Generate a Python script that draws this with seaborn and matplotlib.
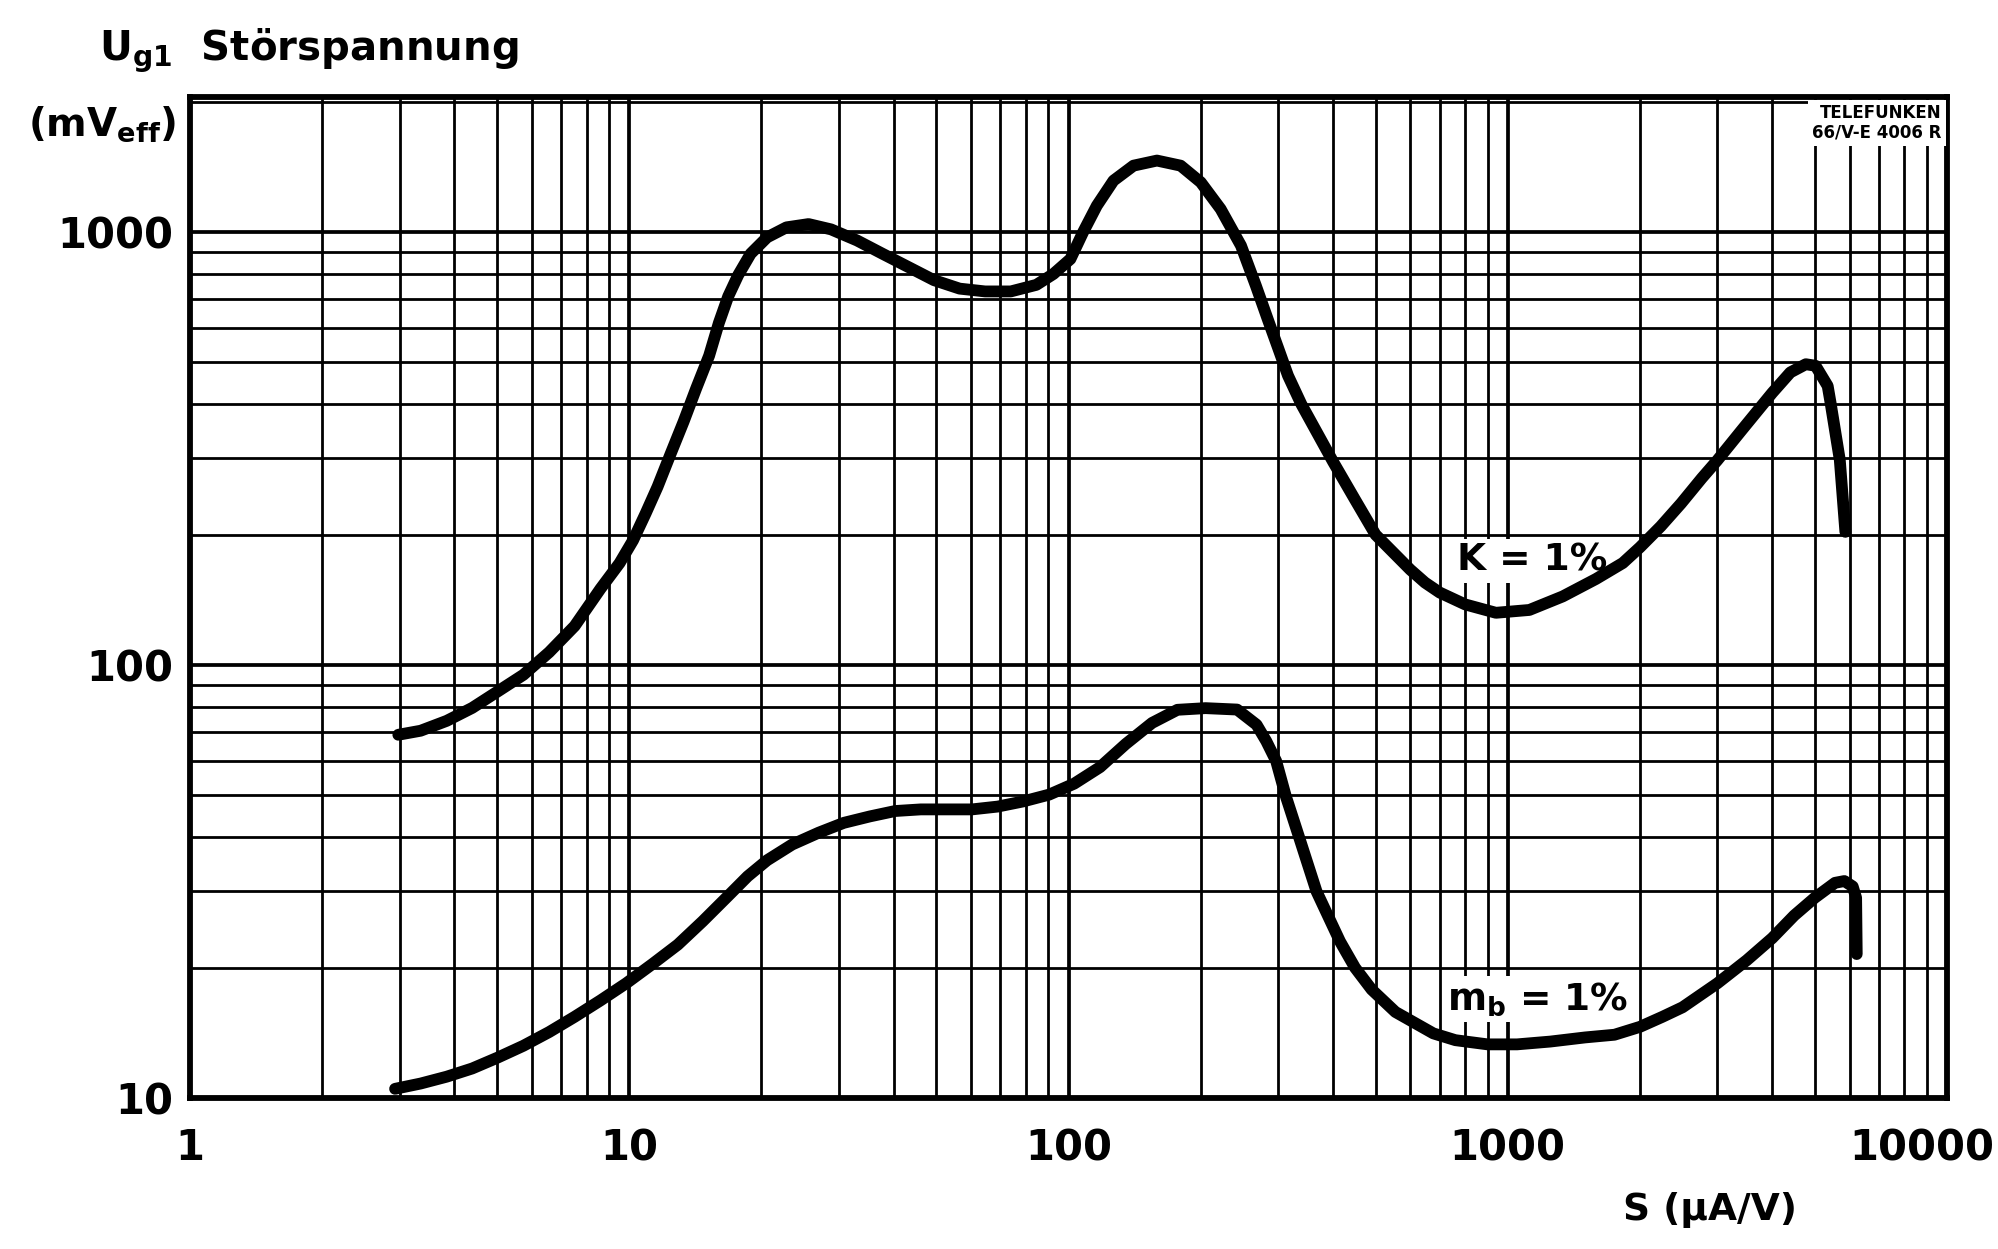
import matplotlib
matplotlib.use("Agg")
import matplotlib.pyplot as plt
import matplotlib.transforms as mtransforms
from matplotlib.ticker import LogLocator, NullFormatter
import numpy as np
import pandas as pd
import seaborn as sns

# ---- data ----
k_x = [2.98, 3.35, 3.84, 4.39, 5.02, 5.74, 6.57, 7.51, 8.60, 9.51, 10.2, 10.9, 11.6,
       12.4, 13.3, 14.2, 15.2, 16.0, 16.8, 17.7, 18.9, 20.6, 22.8, 25.6, 28.8, 33.0,
       37.7, 43.2, 49.4, 56.5, 64.6, 73.9, 84.5, 92.4, 101, 108, 116, 126.6, 140.6,
       159, 180, 200, 222, 247, 267, 284, 300, 316, 339, 400, 449, 500, 600, 648,
       700, 800, 940, 1120, 1334, 1588, 1828, 2000, 2230, 2480, 2765, 3000, 3420,
       4000, 4400, 4770, 5020, 5350, 5430, 5700, 5840, 5870]
k_y = [69, 70.5, 74.3, 79.6, 86.9, 94.9, 107, 123, 150, 172, 194, 224, 258,
       306, 365, 435, 518, 617, 710, 795, 891, 972, 1025, 1043, 1014, 956,
       891, 830, 774, 740, 729, 729, 755, 800, 866, 1000, 1150, 1314, 1423,
       1462, 1423, 1303, 1130, 930, 752, 630, 540, 466, 400, 295, 241, 200, 166, 155,
       147, 138, 132, 134, 144, 158, 172, 187, 209, 236, 270, 297, 350,
       425, 474, 495, 491, 441, 404, 298, 217, 203]

mb_x = [2.93, 3.35, 3.84, 4.39, 5.02, 5.74, 6.57, 7.51, 8.60, 9.84, 11.3, 12.9, 14.7,
        16.8, 18.6, 20.6, 23.5, 27.0, 30.8, 35.3, 40.3, 46.1, 52.8, 60.3, 69, 78.8,
        90.4, 103, 118, 135, 155, 177, 205, 242, 268, 282, 297, 312, 335, 367, 384,
        415, 449, 490, 555, 677, 760, 900, 1050, 1250, 1500, 1750, 2000, 2250, 2500,
        3000, 3500, 4000, 4490, 5000, 5560, 5840, 6100, 6210, 6220, 6230]
mb_y = [10.5, 10.8, 11.2, 11.7, 12.4, 13.2, 14.2, 15.4, 16.8, 18.4, 20.4, 22.6, 25.6,
        29.3, 32.5, 35.4, 38.5, 41.0, 43.2, 44.7, 46.0, 46.4, 46.4, 46.4, 47.1, 48.4,
        50.2, 53.2, 58.1, 65.7, 73.5, 78.8, 79.5, 78.9, 72.8, 66.7, 60, 50, 40, 30, 27.2,
        23.0, 20.0, 17.8, 15.8, 14.1, 13.6, 13.3, 13.3, 13.5, 13.8, 14.0, 14.6, 15.4, 16.2,
        18.4, 20.8, 23.4, 26.4, 29.0, 31.4, 31.7, 30.8, 29.0, 25.0, 21.5]

curve_names = ["K = 1%", "m$_b$ = 1%"]
label_pos = [(765, 174), (726, 16.9)]

x_ticks = [1, 10, 100, 1000, 10000]
x_tick_labels = ["1", "10", "100", "1000", "10000"]
y_ticks = [10, 100, 1000]
y_tick_labels = ["10", "100", "1000"]

title_text = "U$_{g1}$  Störspannung"
unit_text = "(mV$_{eff}$)"
xlabel_text = "S (µA/V)"
logo_text = "TELEFUNKEN\n66/V-E 4006 R"

# ---- styling ----
sns.set_theme(style="white")
plt.rcParams["font.family"] = ["DejaVu Sans"]
plt.rcParams["mathtext.fontset"] = "dejavusans"
plt.rcParams["mathtext.default"] = "bf"

fig = plt.figure(figsize=(19.98, 12.49), dpi=100)
ax = fig.add_axes([190 / 1998, 1 - 1098 / 1249, (1947 - 190) / 1998, (1098 - 97) / 1249])
ax.set_xscale("log")
ax.set_yscale("log")
ax.set_xlim(1, 10000)
ax.set_ylim(10, 2050)

df = pd.concat([
    pd.DataFrame({"S": k_x, "U": k_y, "curve": curve_names[0]}),
    pd.DataFrame({"S": mb_x, "U": mb_y, "curve": curve_names[1]}),
])
for name in curve_names:
    sub = df[df["curve"] == name]
    sns.lineplot(data=sub, x="S", y="U", ax=ax, color="black", lw=8.5,
                 sort=False, estimator=None, legend=False, zorder=4,
                 solid_capstyle="round", solid_joinstyle="round")

# grid
ax.xaxis.set_minor_locator(LogLocator(base=10, subs=np.arange(2, 10)))
ax.yaxis.set_minor_locator(LogLocator(base=10, subs=np.arange(2, 10)))
ax.xaxis.set_minor_formatter(NullFormatter())
ax.yaxis.set_minor_formatter(NullFormatter())
ax.set_axisbelow(True)
ax.grid(which="major", color="black", lw=2.7)
ax.grid(which="minor", color="black", lw=2.0)

ax.set_xticks(x_ticks, x_tick_labels)
ax.set_yticks(y_ticks, y_tick_labels)
ax.tick_params(which="both", length=0)
ax.tick_params(axis="x", pad=21, labelsize=30)
ax.tick_params(axis="y", pad=12, labelsize=30)
for lab in ax.get_xticklabels() + ax.get_yticklabels():
    lab.set_fontweight("bold")
    lab.set_color("black")
last = ax.get_xticklabels()[-1]
last.set_horizontalalignment("right")
last.set_transform(last.get_transform() + mtransforms.ScaledTranslation(0.47, 0, fig.dpi_scale_trans))

ax.set_xlabel("")
ax.set_ylabel("")
for sp in ax.spines.values():
    sp.set_visible(True)
    sp.set_color("black")
    sp.set_linewidth(4.2)

# curve labels
for name, (lx, ly) in zip(curve_names, label_pos):
    ax.text(lx, ly, name, ha="left", va="center", fontsize=27, fontweight="bold",
            color="black", zorder=3,
            bbox=dict(facecolor="white", edgecolor="none", pad=3))

# logo
ax.text(0.997, 0.993, logo_text, transform=ax.transAxes, ha="right", va="top",
        fontsize=12, fontweight="bold", color="black", linespacing=1.1, zorder=3,
        bbox=dict(facecolor="white", edgecolor="none", pad=3))

# axis titles
fig.text(99 / 1998, 1 - 51 / 1249, title_text, ha="left", va="center",
         fontsize=29, fontweight="bold", color="black")
fig.text(176 / 1998, 1 - 124 / 1249, unit_text, ha="right", va="center",
         fontsize=28, fontweight="bold", color="black")
fig.text(1710 / 1998, 1 - 1210 / 1249, xlabel_text, ha="center", va="center",
         fontsize=27, fontweight="bold", color="black")

fig.savefig("out.png", dpi=100, facecolor="white")
